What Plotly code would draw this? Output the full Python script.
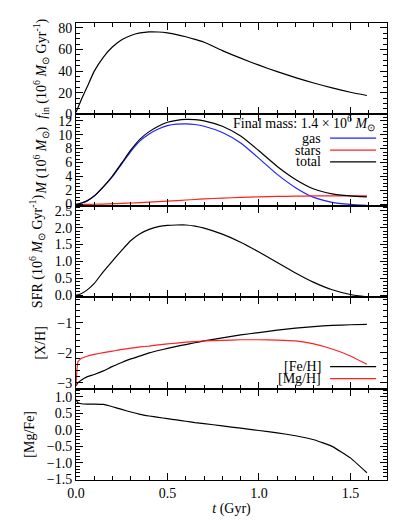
import plotly.graph_objects as go
from plotly.subplots import make_subplots

# -----------------------------
# datos
# -----------------------------
t = [0, 0.01, 0.03, 0.06, 0.1, 0.15, 0.2, 0.25, 0.3, 0.35, 0.4, 0.45, 0.5,
     0.55, 0.6, 0.65, 0.7, 0.8, 0.9, 1.0, 1.1, 1.2, 1.3, 1.4, 1.5, 1.59]

f_in = [2, 6, 14, 25, 40, 53, 62.5, 69, 73, 75.3, 76.3, 76.2, 75.3,
        73.8, 71.8, 69.4, 66.7, 59, 52, 45.5, 39.5, 34, 29, 24.5, 20.5, 17.5]

m_gas = [0, 0.05, 0.2, 0.5, 1.2, 2.5, 4.0, 5.8, 7.6, 9.1, 10.1, 10.8, 11.3,
         11.5, 11.55, 11.45, 11.2, 10.3, 8.8, 6.6, 4.3, 2.4, 1.0, 0.3, 0.0, -0.15]
m_stars = [0, 0, 0, 0.01, 0.02, 0.05, 0.1, 0.14, 0.2, 0.26, 0.33, 0.4, 0.48,
           0.55, 0.63, 0.7, 0.78, 0.9, 1.0, 1.08, 1.14, 1.18, 1.21, 1.22, 1.23, 1.23]
m_total = [0, 0.05, 0.2, 0.51, 1.22, 2.55, 4.1, 5.94, 7.8, 9.36, 10.43, 11.2, 11.78,
           12.05, 12.18, 12.15, 11.98, 11.2, 9.8, 7.68, 5.44, 3.58, 2.21, 1.52, 1.23, 1.08]

sfr = [0, 0.01, 0.05, 0.15, 0.35, 0.7, 1.02, 1.33, 1.62, 1.82, 1.95, 2.03, 2.07,
       2.08, 2.08, 2.05, 1.99, 1.81, 1.57, 1.28, 0.97, 0.66, 0.38, 0.16, 0.02, -0.05]

fe_h = [-3.1, -3.0, -2.9, -2.8, -2.72, -2.6, -2.45, -2.32, -2.2, -2.1, -2.0, -1.92, -1.85,
        -1.78, -1.72, -1.66, -1.6, -1.5, -1.4, -1.32, -1.24, -1.17, -1.12, -1.08, -1.06, -1.05]
mg_h = [-3.1, -2.3, -2.18, -2.11, -2.05, -1.99, -1.94, -1.88, -1.84, -1.8, -1.77, -1.73, -1.7,
        -1.67, -1.64, -1.62, -1.6, -1.58, -1.56, -1.56, -1.57, -1.6, -1.7, -1.87, -2.1, -2.38]

mg_fe = [0.92, 0.82, 0.79, 0.78, 0.78, 0.77, 0.7, 0.62, 0.54, 0.47, 0.42, 0.38, 0.34,
         0.3, 0.26, 0.22, 0.19, 0.12, 0.05, -0.02, -0.09, -0.18, -0.3, -0.5, -0.85, -1.3]

FONT = "Liberation Serif"

fig = make_subplots(rows=5, cols=1, shared_xaxes=True, vertical_spacing=0)

linea = dict(width=1.2, shape="spline", smoothing=0.6)
fig.add_trace(go.Scatter(x=t, y=f_in, mode="lines", line=dict(color="black", **linea)), row=1, col=1)
fig.add_trace(go.Scatter(x=t, y=m_gas, mode="lines", line=dict(color="#2020ff", **linea)), row=2, col=1)
fig.add_trace(go.Scatter(x=t, y=m_stars, mode="lines", line=dict(color="#ff2020", **linea)), row=2, col=1)
fig.add_trace(go.Scatter(x=t, y=m_total, mode="lines", line=dict(color="black", **linea)), row=2, col=1)
fig.add_trace(go.Scatter(x=t, y=sfr, mode="lines", line=dict(color="black", **linea)), row=3, col=1)
fig.add_trace(go.Scatter(x=t, y=fe_h, mode="lines", line=dict(color="black", width=1.2, shape="spline", smoothing=0.3)), row=4, col=1)
fig.add_trace(go.Scatter(x=t, y=mg_h, mode="lines", line=dict(color="#ff2020", width=1.2, shape="spline", smoothing=0.3)), row=4, col=1)
fig.add_trace(go.Scatter(x=t, y=mg_fe, mode="lines", line=dict(color="black", width=1.2, shape="spline", smoothing=0.3)), row=5, col=1)

ejes = dict(showline=True, linecolor="black", linewidth=1, mirror="allticks", automargin=False,
            ticks="inside", ticklen=7, tickcolor="black", showgrid=False, zeroline=False,
            tickfont=dict(family=FONT, size=14, color="black"))

fig.update_xaxes(range=[0, 1.7], dtick=0.5, tickformat=".1f",
                 minor=dict(dtick=0.1, ticklen=4, ticks="inside", tickcolor="black"), **ejes)
fig.update_xaxes(title=dict(text="<i>t</i> (Gyr)", font=dict(family=FONT, size=14), standoff=0),
                 row=5, col=1)

titulo = dict(family=FONT, size=14, color="black")
fig.update_yaxes(range=[0, 84.5], dtick=20, minor=dict(dtick=5, ticklen=4, ticks="inside", tickcolor="black"),
                 title=dict(text="<i>f</i><sub>in</sub> (10<sup>6</sup> <i>M</i><sub>⊙</sub> Gyr<sup>-1</sup>)",
                            font=titulo, standoff=8), row=1, col=1, **ejes)
fig.update_yaxes(range=[-0.2, 12.9], dtick=2, minor=dict(dtick=0.5, ticklen=4, ticks="inside", tickcolor="black"),
                 title=dict(text="<i>M</i> (10<sup>6</sup> <i>M</i><sub>⊙</sub>)", font=titulo, standoff=8),
                 row=2, col=1, **ejes)
fig.update_yaxes(range=[-0.06, 2.65], dtick=0.5, tickformat=".1f",
                 minor=dict(dtick=0.1, ticklen=4, ticks="inside", tickcolor="black"),
                 title=dict(text="SFR (10<sup>6</sup> <i>M</i><sub>⊙</sub> Gyr<sup>-1</sup>)", font=titulo, standoff=8),
                 row=3, col=1, **ejes)
fig.update_yaxes(range=[-3.19, -0.14], dtick=1,
                 minor=dict(dtick=0.2, ticklen=4, ticks="inside", tickcolor="black"),
                 title=dict(text="[X/H]", font=titulo, standoff=8), row=4, col=1, **ejes)
fig.update_yaxes(range=[-1.52, 1.25], dtick=0.5, tickformat=".1f",
                 minor=dict(dtick=0.1, ticklen=4, ticks="inside", tickcolor="black"),
                 title=dict(text="[Mg/Fe]", font=titulo, standoff=8), row=5, col=1, **ejes)

# leyendas dibujadas a mano (texto a la izquierda, linea a la derecha)
def leyenda(fila, etiqueta, color, yd):
    xr, yr = ("x domain", "y domain") if fila == 1 else (f"x{fila} domain", f"y{fila} domain")
    fig.add_annotation(x=0.795, y=yd, xref=xr, yref=yr, text=etiqueta, showarrow=False,
                       xanchor="right", yanchor="middle", font=dict(family=FONT, size=14, color="black"))
    fig.add_shape(type="line", x0=0.817, x1=0.965, y0=yd, y1=yd, xref=xr, yref=yr,
                  line=dict(color=color, width=1.2))

fig.add_annotation(x=0.968, y=0.905, xref="x2 domain", yref="y2 domain",
                   text="Final mass: 1.4 × 10<sup>6</sup> <i>M</i><sub>⊙</sub>", showarrow=False,
                   xanchor="right", yanchor="middle", font=dict(family=FONT, size=14, color="black"))
leyenda(2, "gas", "#2020ff", 0.74)
leyenda(2, "stars", "#ff2020", 0.61)
leyenda(2, "total", "black", 0.48)
leyenda(4, "[Fe/H]", "black", 0.24)
leyenda(4, "[Mg/H]", "#ff2020", 0.11)

# la pagina html deja 8 px de margen en el body: se descuentan aqui
fig.update_layout(
    width=403, height=521,
    margin=dict(l=68, r=24, t=15, b=49),
    showlegend=False,
    plot_bgcolor="white", paper_bgcolor="white",
    font=dict(family=FONT, size=14, color="black"),
)

fig.write_html("out.html")
